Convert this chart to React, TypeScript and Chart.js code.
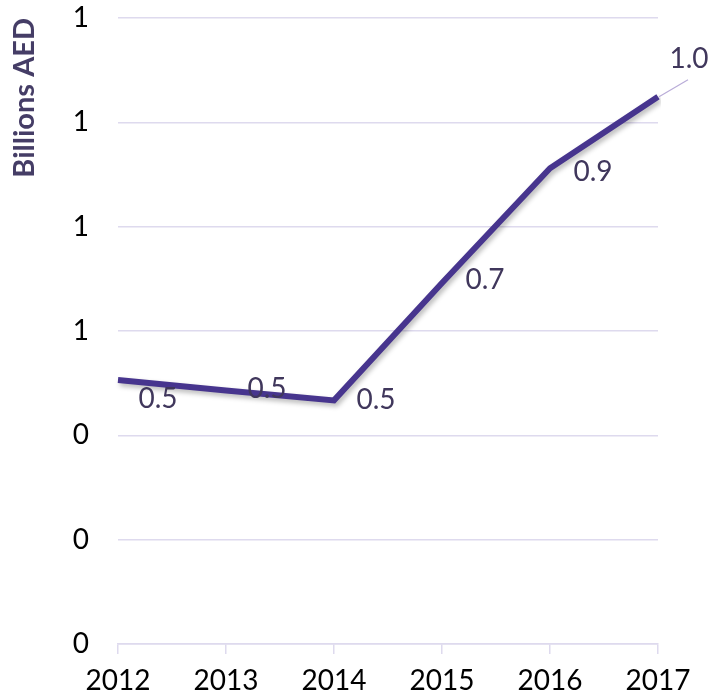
import React, { useEffect, useRef } from "react";
import { Chart, registerables } from "chart.js";

Chart.register(...registerables);

// ---- data ----
const years: string[] = ["2012", "2013", "2014", "2015", "2016", "2017"];
const revenue: number[] = [0.506, 0.486, 0.467, 0.692, 0.912, 1.049];
const yMin = 0;
const yMax = 1.2;
const yStep = 0.2;
const axisTitle = "Billions AED";

// label offsets (px) relative to each point: style only
const labelOffsets: [number, number][] = [
  [40, 19],
  [41, -2],
  [42, 0],
  [43, -3],
  [43, 4],
  [31, -38],
];

const FONT = "Lato, 'Open Sans', sans-serif";
const LINE_COLOR = "#47358E";
const GRID_COLOR = "#DEDAEE";
const LABEL_COLOR = "#40375C";
const TITLE_COLOR = "#453D66";

const shadowPlugin = {
  id: "lineShadow",
  beforeDatasetDraw(chart: any) {
    const ctx = chart.ctx;
    ctx.save();
    ctx.shadowColor = "rgba(0,0,0,0.28)";
    ctx.shadowBlur = 5;
    ctx.shadowOffsetX = 2;
    ctx.shadowOffsetY = 3;
  },
  afterDatasetDraw(chart: any) {
    chart.ctx.restore();
  },
};

const labelPlugin = {
  id: "dataLabels",
  afterDatasetsDraw(chart: any) {
    const ctx = chart.ctx;
    const meta = chart.getDatasetMeta(0);
    ctx.save();
    meta.data.forEach((pt: any, i: number) => {
      const [dx, dy] = labelOffsets[i];
      const x = pt.x + dx;
      const y = pt.y + dy;
      if (i === meta.data.length - 1) {
        ctx.strokeStyle = "#B9ACD8";
        ctx.lineWidth = 1.2;
        ctx.beginPath();
        ctx.moveTo(pt.x + 1, pt.y);
        ctx.lineTo(pt.x + 30, pt.y - 17);
        ctx.stroke();
      }
      ctx.fillStyle = LABEL_COLOR;
      ctx.font = `28px ${FONT}`;
      ctx.textAlign = "center";
      ctx.textBaseline = "middle";
      ctx.fillText(revenue[i].toFixed(1), x, y);
    });
    ctx.restore();
  },
};

export default function App() {
  const ref = useRef<HTMLCanvasElement | null>(null);

  useEffect(() => {
    if (!ref.current) return;
    const chart = new Chart(ref.current, {
      type: "line",
      data: {
        labels: years,
        datasets: [
          {
            data: revenue,
            borderColor: LINE_COLOR,
            borderWidth: 6,
            pointRadius: 0,
            tension: 0,
            fill: false,
            borderJoinStyle: "miter",
          },
        ],
      },
      options: {
        animation: false,
        responsive: false,
        devicePixelRatio: 1,
        layout: { padding: { top: 18, right: 55, left: 0, bottom: 0 } },
        plugins: { legend: { display: false }, tooltip: { enabled: false } },
        scales: {
          x: {
            offset: false,
            grid: {
              drawOnChartArea: false,
              drawTicks: true,
              tickLength: 10,
              color: GRID_COLOR,
              lineWidth: 1.5,
            },
            border: { display: true, color: GRID_COLOR, width: 1.5 },
            ticks: {
              color: "#000",
              font: { family: FONT, size: 28 },
              padding: 10,
              maxRotation: 0,
              autoSkip: false,
            },
            afterFit(scale: any) {
              scale.height = 56;
            },
          },
          y: {
            min: yMin,
            max: yMax,
            grid: { color: GRID_COLOR, lineWidth: 1.5, drawTicks: false },
            border: { display: false },
            ticks: {
              stepSize: yStep,
              color: "#000",
              font: { family: FONT, size: 28 },
              padding: 29,
              callback: (v: any) => String(Math.round(Number(v))),
            },
            title: {
              display: true,
              text: axisTitle,
              align: "end",
              color: TITLE_COLOR,
              font: { family: FONT, size: 29, weight: "bold" },
              padding: { top: 7, bottom: 0 },
            },
            afterFit(scale: any) {
              scale.width = 118;
              scale.paddingTop = 0;
              scale.paddingBottom = 0;
            },
          },
        },
      },
      plugins: [shadowPlugin, labelPlugin],
    } as any);
    return () => chart.destroy();
  }, []);

  return (
    <div style={{ position: "fixed", left: 0, top: 0, width: 713, height: 700, background: "#fff" }}>
      <canvas ref={ref} width={713} height={700} style={{ width: 713, height: 700 }} />
    </div>
  );
}
